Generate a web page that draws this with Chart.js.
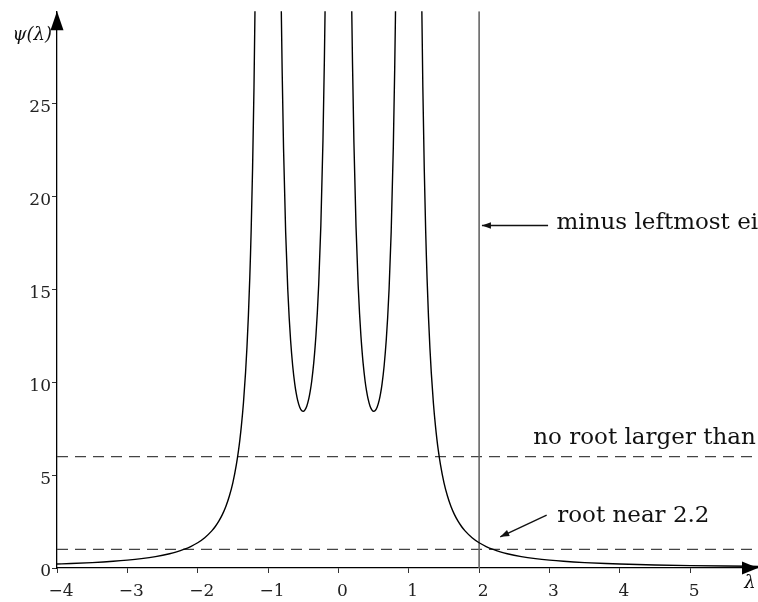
<!DOCTYPE html>
<html><head><meta charset="utf-8">
<script src="https://cdn.jsdelivr.net/npm/chart.js@4.4.1/dist/chart.umd.min.js"></script>
<style>html,body{margin:0;padding:0;background:#fff;}#wrap{width:758px;height:602px;position:relative;}canvas{display:block;}</style>
</head><body><div id="wrap"><canvas id="c" width="758" height="602"></canvas></div>
<script>
// psi(lambda); null marks the gaps at the poles (-1, 0, 1)
const lambdaVals = [
  -4, -3.8, -3.5, -3.2, -3, -2.8, -2.6, -2.4, -2.3, -2.2, -2.1, -2, -1.9, -1.8, -1.75, -1.7, -1.65, -1.6, -1.55, -1.5, -1.45, -1.42, -1.4, -1.38, -1.35, -1.32, -1.3, -1.28, -1.26, -1.25, -1.24, -1.22, -1.2, -1.18, -1.17, -1.15,
  -1,
  -0.84, -0.82, -0.81, -0.8, -0.78, -0.75, -0.72, -0.7, -0.68, -0.65, -0.62, -0.6, -0.58, -0.55, -0.52, -0.5, -0.48, -0.45, -0.42, -0.4, -0.38, -0.35, -0.33, -0.32, -0.3, -0.28, -0.25, -0.22, -0.2, -0.19, -0.18, -0.17, -0.15,
  0,
  0.15, 0.17, 0.18, 0.19, 0.2, 0.22, 0.25, 0.28, 0.3, 0.32, 0.33, 0.35, 0.38, 0.4, 0.42, 0.45, 0.48, 0.5, 0.52, 0.55, 0.58, 0.6, 0.62, 0.65, 0.68, 0.7, 0.72, 0.75, 0.78, 0.8, 0.81, 0.82, 0.84,
  1,
  1.15, 1.17, 1.18, 1.2, 1.22, 1.24, 1.25, 1.26, 1.28, 1.3, 1.32, 1.35, 1.38, 1.4, 1.42, 1.45, 1.5, 1.55, 1.6, 1.65, 1.7, 1.75, 1.8, 1.9, 2, 2.1, 2.2, 2.3, 2.4, 2.6, 2.8, 3, 3.2, 3.5, 3.8, 4, 4.5, 5, 5.5, 6
];
const psiVals = [
  0.2136, 0.2403, 0.291, 0.361, 0.4236, 0.5055, 0.6157, 0.7703, 0.8725, 0.9987, 1.1573, 1.361, 1.6305, 1.999, 2.2365, 2.524, 2.877, 3.316, 3.876, 4.604, 5.580, 6.336, 6.934, 7.627, 8.893, 10.525, 11.89, 13.558, 15.619, 16.84, 18.21, 21.54, 25.90, 31.79, 35.55, 45.42,
  null,
  40.77, 32.65, 29.53, 26.87, 22.62, 18.10, 15.02, 13.50, 12.283, 10.90, 9.908, 9.418, 9.042, 8.660, 8.471, 8.444, 8.495, 8.720, 9.138, 9.538, 10.05, 11.08, 11.98, 12.50, 13.74, 15.29, 18.42, 22.98, 27.26, 29.93, 33.07, 36.79, 46.58,
  null,
  46.58, 36.79, 33.07, 29.93, 27.26, 22.98, 18.42, 15.29, 13.74, 12.50, 11.98, 11.08, 10.05, 9.538, 9.138, 8.720, 8.495, 8.444, 8.471, 8.660, 9.042, 9.418, 9.908, 10.90, 12.283, 13.50, 15.02, 18.10, 22.62, 26.87, 29.53, 32.65, 40.77,
  null,
  45.42, 35.55, 31.79, 25.90, 21.54, 18.21, 16.84, 15.619, 13.558, 11.89, 10.525, 8.893, 7.627, 6.934, 6.336, 5.580, 4.604, 3.876, 3.316, 2.877, 2.524, 2.2365, 1.999, 1.6305, 1.361, 1.1573, 0.9987, 0.8725, 0.7703, 0.6157, 0.5055, 0.4236, 0.361, 0.291, 0.2403, 0.2136, 0.1641, 0.1303, 0.1062, 0.0882
];
const xTickVals = [-4, -3, -2, -1, 0, 1, 2, 3, 4, 5];
const yTickVals = [0, 5, 10, 15, 20, 25];
const thresholdLevels = [6, 1];          // dashed horizontal lines
const leftmostEigenLine = [2];           // vertical line at lambda = 2
const xRange = [-4, 5.964];
const yRange = [0, 30];
const annotationTexts = ['minus leftmost ei', 'no root larger than', 'root near 2.2'];
const axisTitles = ['\u03c8(\u03bb)', '\u03bb'];

const fmt = v => (v < 0 ? '\u2212' + Math.abs(v) : String(v));
const serif = "'DejaVu Serif', serif";

const datasets = [{
  data: lambdaVals.map((x, i) => ({x: x, y: psiVals[i]})),
  borderColor: '#000', borderWidth: 1.4, pointRadius: 0,
  cubicInterpolationMode: 'monotone', spanGaps: false, order: 0
}];
thresholdLevels.forEach(v => datasets.push({
  data: [{x: xRange[0], y: v}, {x: xRange[1], y: v}],
  borderColor: '#444', borderWidth: 1.3, borderDash: [11, 7], pointRadius: 0, order: 2
}));
leftmostEigenLine.forEach(v => datasets.push({
  data: [{x: v, y: yRange[0]}, {x: v, y: yRange[1]}],
  borderColor: '#666', borderWidth: 1.6, pointRadius: 0, order: 1
}));

function arrow(ctx, x1, y1, x2, y2, len, hw) {
  ctx.beginPath(); ctx.moveTo(x1, y1); ctx.lineTo(x2, y2); ctx.stroke();
  const a = Math.atan2(y2 - y1, x2 - x1);
  ctx.beginPath();
  ctx.moveTo(x2, y2);
  ctx.lineTo(x2 - len * Math.cos(a) + hw * Math.sin(a), y2 - len * Math.sin(a) - hw * Math.cos(a));
  ctx.lineTo(x2 - len * Math.cos(a) - hw * Math.sin(a), y2 - len * Math.sin(a) + hw * Math.cos(a));
  ctx.closePath(); ctx.fill();
}

const decor = {
  id: 'decor',
  afterDraw(chart) {
    const ctx = chart.ctx, a = chart.chartArea, xs = chart.scales.x, ys = chart.scales.y;
    ctx.save();
    ctx.fillStyle = '#000'; ctx.strokeStyle = '#000'; ctx.lineWidth = 1.3;
    // axis arrowheads
    ctx.beginPath(); ctx.moveTo(a.left, a.top); ctx.lineTo(a.left - 6.5, a.top + 19); ctx.lineTo(a.left + 6.5, a.top + 19); ctx.closePath(); ctx.fill();
    ctx.beginPath(); ctx.moveTo(a.right, a.bottom); ctx.lineTo(a.right - 16, a.bottom - 6.5); ctx.lineTo(a.right - 16, a.bottom + 6.5); ctx.closePath(); ctx.fill();
    // axis titles
    ctx.font = 'italic 18px ' + serif; ctx.fillStyle = '#111';
    ctx.textAlign = 'right'; ctx.textBaseline = 'middle';
    ctx.fillText(axisTitles[0], a.left - 5, a.top + 24);
    ctx.textAlign = 'center';
    ctx.fillText(axisTitles[1], a.right - 8, a.bottom + 15);
    // annotations
    ctx.font = '23px ' + serif; ctx.fillStyle = '#111'; ctx.textAlign = 'left'; ctx.textBaseline = 'alphabetic';
    ctx.fillText(annotationTexts[0], xs.getPixelForValue(3.1), ys.getPixelForValue(18.25));
    ctx.fillText(annotationTexts[1], xs.getPixelForValue(2.77), ys.getPixelForValue(6.7));
    ctx.fillText(annotationTexts[2], xs.getPixelForValue(3.11), ys.getPixelForValue(2.48));
    ctx.lineWidth = 1.4; ctx.strokeStyle = '#111'; ctx.fillStyle = '#111';
    arrow(ctx, xs.getPixelForValue(2.98), ys.getPixelForValue(18.45), xs.getPixelForValue(2.04), ys.getPixelForValue(18.45), 9, 3.2);
    arrow(ctx, xs.getPixelForValue(2.96), ys.getPixelForValue(2.85), xs.getPixelForValue(2.3), ys.getPixelForValue(1.68), 9, 3.2);
    ctx.restore();
  }
};

new Chart(document.getElementById('c'), {
  type: 'line',
  data: {datasets: datasets},
  plugins: [decor],
  options: {
    responsive: false, animation: false, devicePixelRatio: 1,
    layout: {padding: {top: 10, right: 0, left: 0, bottom: 0}},
    plugins: {legend: {display: false}, tooltip: {enabled: false}},
    scales: {
      x: {
        type: 'linear', min: xRange[0], max: xRange[1],
        afterFit: s => { s.height = 34; },
        afterBuildTicks: s => { s.ticks = xTickVals.map(v => ({value: v})); },
        border: {display: true, color: '#000', width: 1.3},
        grid: {display: true, drawOnChartArea: false, drawTicks: true, tickLength: 5, color: '#333', lineWidth: 1},
        ticks: {callback: v => fmt(v), font: {family: serif, size: 17}, color: '#222', padding: 8, labelOffset: 4, maxRotation: 0, autoSkip: false}
      },
      y: {
        type: 'linear', min: yRange[0], max: yRange[1],
        afterFit: s => { s.width = 57; },
        afterBuildTicks: s => { s.ticks = yTickVals.map(v => ({value: v})); },
        border: {display: true, color: '#000', width: 1.3},
        grid: {display: true, drawOnChartArea: false, drawTicks: true, tickLength: 5, color: '#333', lineWidth: 1},
        ticks: {callback: v => fmt(v), font: {family: serif, size: 17}, color: '#222', padding: 1, labelOffset: 4, autoSkip: false}
      }
    }
  }
});
</script></body></html>
